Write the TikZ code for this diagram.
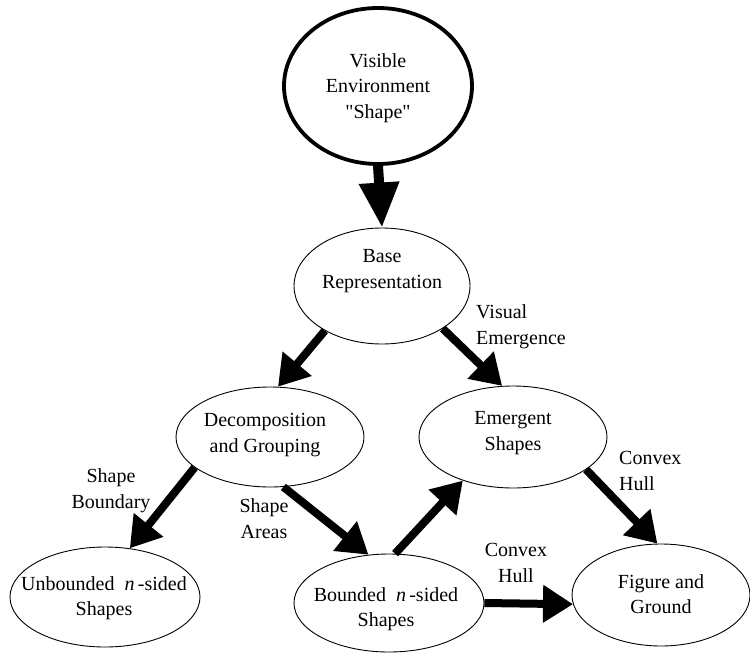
\documentclass[tikz,border=0pt]{standalone}
\usepackage{fontspec}
\setmainfont{Liberation Serif}[Ligatures=TeXOff]
\usetikzlibrary{shapes.geometric,arrows.meta}

\begin{document}
\begin{tikzpicture}[x=1pt,y=-1pt,
  ell/.style={ellipse,draw,line width=0.9pt,inner sep=0pt,minimum width=#1},
  txt/.style={font=\fontsize{20}{25.5}\selectfont,align=center,inner sep=0pt},
  lbl/.style={font=\fontsize{20}{26}\selectfont,inner sep=0pt},
  arr/.style={line width=8pt,-{Triangle[length=30pt,width=36pt]}},
  bigarr/.style={line width=10pt,-{Triangle[length=45pt,width=38pt]}}]
\useasboundingbox (0,0) rectangle (750,653);

% ellipses
\node[ell=188pt,minimum height=156pt,line width=3.8pt] (vis) at (378,86) {};
\node[ell=176pt,minimum height=116pt] (base) at (382,286) {};
\node[ell=188pt,minimum height=100pt] (dec) at (270,437) {};
\node[ell=188pt,minimum height=102pt] (emg) at (513,437) {};
\node[ell=190pt,minimum height=100pt] (unb) at (105,597) {};
\node[ell=190pt,minimum height=98pt] (bnd) at (389,603) {};
\node[ell=178pt,minimum height=102pt] (fig) at (661,595) {};

% ellipse texts
\node[txt] (tvis) at (378,88) {Visible\\Environment\\"Shape"};
\node[txt] (tbase) at (382,271) {Base\\Representation};
\node[txt] (tdec) at (265,435) {Decomposition\\and Grouping};
\node[txt] (temg) at (513,433) {Emergent\\Shapes};
\node[txt] (tunb) at (104,598) {Unbounded~~\textit{n}\,-sided\\Shapes};
\node[txt] (tbnd) at (386,609) {Bounded~~\textit{n}\,-sided\\Shapes};
\node[txt] (tfig) at (661,594) {Figure and\\Ground};

% connectors
\draw[bigarr] (vis.270) -- (base.270 |- base.north);
\draw[arr] (base.218.7) -- (dec.81);
\draw[arr] (base.325) -- (emg.102);
\draw[arr] (dec.202.3) -- (unb.63);
\draw[arr] (dec.285) -- (bnd.113);
\draw[arr] (bnd.83) -- (emg.221.4);
\draw[arr] (emg.336) -- (fig.94);
\draw[arr] (bnd.0) -- (fig.186);

% connector labels
\node[lbl,align=left,anchor=west] (lve) at (476,327) {Visual\\Emergence};
\node[lbl,align=center] (lsb) at (111,491) {Shape\\Boundary};
\node[lbl,align=center] (lsa) at (264,519) {Shape\\Areas};
\node[lbl,align=left,anchor=west] (lch1) at (619,471) {Convex\\Hull};
\node[lbl,align=center] (lch2) at (516,563) {Convex\\Hull};
\end{tikzpicture}
\end{document}
